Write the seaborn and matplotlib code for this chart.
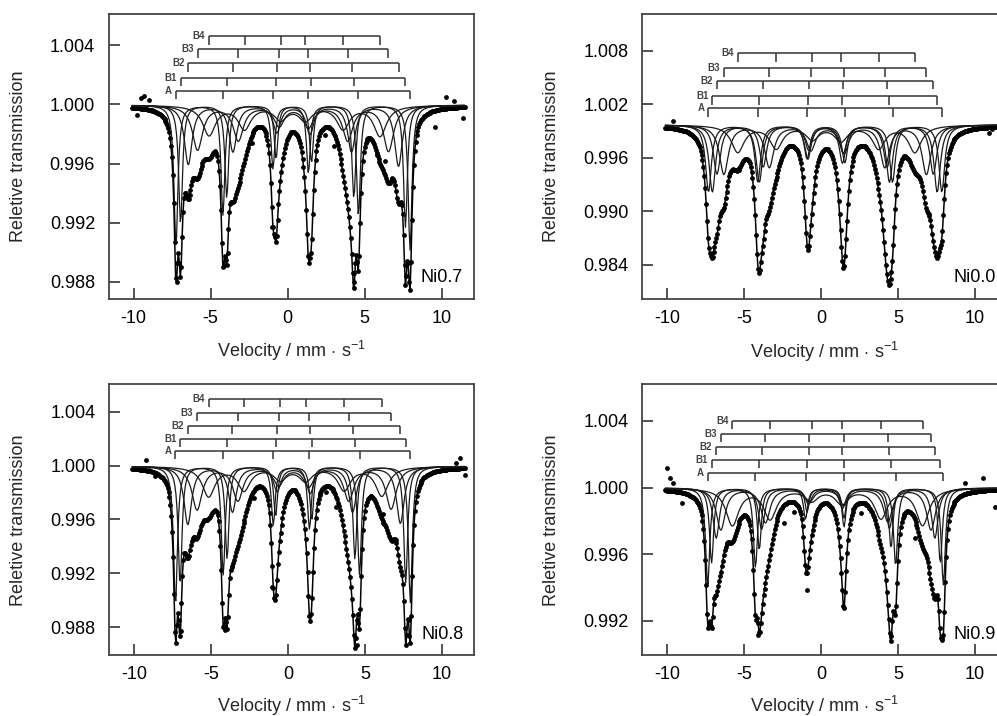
import numpy as np
import pandas as pd
import matplotlib
matplotlib.use("Agg")
import matplotlib.pyplot as plt
import seaborn as sns

sns.set_theme(style="ticks")
plt.rcParams["font.family"] = ["Liberation Sans", "DejaVu Sans"]
plt.rcParams["mathtext.fontset"] = "custom"
plt.rcParams["mathtext.rm"] = "Liberation Sans"
plt.rcParams["mathtext.it"] = "Liberation Sans:italic"
plt.rcParams["axes.unicode_minus"] = False

# sub-spectra (sextets) fitted in every sample
sites = ["A", "B1", "B2", "B3", "B4"]

# ---- Ni0.7 : line positions (mm/s), outer-line depth, line width
ni07_pos = [[-7.25, -4.20, -0.95, 1.35, 4.60, 7.95],
            [-6.95, -3.95, -0.75, 1.55, 4.30, 7.65],
            [-6.45, -3.55, -0.70, 1.45, 4.15, 7.20],
            [-5.85, -3.20, -0.55, 1.35, 3.90, 6.55],
            [-5.10, -2.80, -0.45, 1.15, 3.60, 6.00]]
ni07_depth = [0.0095, 0.0080, 0.0040, 0.0030, 0.0020]
ni07_width = [0.30, 0.30, 0.60, 0.80, 1.00]
ni07_ratio = [1.0, 0.78, 0.45, 0.48, 0.78, 1.03]
ni07_bar = [1.00092, 1.00181, 1.00276, 1.00371, 1.00460]
ni07_base = 0.99995
ni07_odd_v = [-9.8, -9.5, -9.3, -9.0, -1.0, 4.3, 5.8, 9.6, 10.3, 10.8, 11.4,
              3.0, -2.3, 2.4, 6.3]
ni07_odd_t = [0.99930, 1.00045, 1.00055, 1.00030, 0.99170, 0.98860, 0.99660,
              0.99850, 1.00050, 1.00020, 0.99905, 0.99720, 0.99740, 0.99790,
              0.99620]

# ---- Ni0.0
ni00_pos = [[-7.30, -4.10, -0.90, 1.55, 4.65, 7.85],
            [-7.05, -4.00, -0.85, 1.40, 4.45, 7.55],
            [-6.75, -3.75, -0.80, 1.45, 4.30, 7.30],
            [-6.30, -3.35, -0.65, 1.50, 4.15, 6.85],
            [-5.40, -2.90, -0.55, 1.30, 3.75, 6.10]]
ni00_depth = [0.0075, 0.0075, 0.0055, 0.0055, 0.0030]
ni00_width = [0.45, 0.50, 0.55, 0.70, 1.00]
ni00_ratio = [1.0, 0.85, 0.5, 0.56, 0.85, 1.0]
ni00_bar = [1.00155, 1.00286, 1.00461, 1.00603, 1.00770]
ni00_base = 0.99968
ni00_odd_v = [-9.6, 10.9, 11.1]
ni00_odd_t = [1.00010, 0.99880, 0.99920]

# ---- Ni0.8
ni08_pos = [[-7.30, -4.20, -0.95, 1.40, 4.65, 7.95],
            [-7.00, -3.95, -0.80, 1.55, 4.35, 7.65],
            [-6.50, -3.60, -0.70, 1.45, 4.20, 7.30],
            [-5.90, -3.25, -0.60, 1.35, 3.95, 6.70],
            [-5.15, -2.85, -0.50, 1.15, 3.65, 6.10]]
ni08_depth = [0.0103, 0.0088, 0.0043, 0.0032, 0.0022]
ni08_width = [0.30, 0.30, 0.60, 0.80, 1.00]
ni08_ratio = [1.0, 0.78, 0.42, 0.45, 0.78, 0.98]
ni08_bar = [1.00110, 1.00195, 1.00294, 1.00393, 1.00492]
ni08_base = 0.99995
ni08_odd_v = [-9.2, -9.0, -8.6, -1.05, -4.1, 4.5, 3.1, 11.2, 11.5, 10.9,
              -2.2, 2.5, 6.2]
ni08_odd_t = [1.00042, 0.99967, 0.99920, 0.99100, 0.98780, 0.98670, 0.99690,
              1.00055, 0.99930, 1.00020, 0.99760, 0.99800, 0.99640]

# ---- Ni0.9
ni09_pos = [[-7.35, -4.25, -1.00, 1.50, 4.85, 7.95],
            [-7.10, -4.00, -0.90, 1.50, 4.55, 7.75],
            [-6.80, -3.85, -0.80, 1.40, 4.45, 7.40],
            [-6.50, -3.60, -0.75, 1.50, 4.35, 7.15],
            [-5.75, -3.30, -0.60, 1.35, 3.90, 6.60]]
ni09_depth = [0.0058, 0.0045, 0.0030, 0.0025, 0.0022]
ni09_width = [0.32, 0.32, 0.50, 0.70, 1.00]
ni09_ratio = [1.0, 0.82, 0.32, 0.4, 0.8, 1.0]
ni09_bar = [1.00086, 1.00166, 1.00246, 1.00320, 1.00402]
ni09_base = 0.99998
ni09_odd_v = [-10.0, -9.8, -9.6, -9.0, -8.7, -0.9, -4.1, -1.75, -2.4, 9.35,
              10.55, 11.3, 2.6, 6.1]
ni09_odd_t = [1.00116, 1.00056, 1.00030, 0.99906, 0.99960, 0.99387, 0.99116,
              0.99856, 0.99786, 1.00026, 1.00056, 0.99886, 0.99850, 0.99700]

samples = ["Ni0.7", "Ni0.0", "Ni0.8", "Ni0.9"]
panels = {
    "Ni0.7": (ni07_pos, ni07_depth, ni07_width, ni07_ratio, ni07_bar, ni07_base, ni07_odd_v, ni07_odd_t),
    "Ni0.0": (ni00_pos, ni00_depth, ni00_width, ni00_ratio, ni00_bar, ni00_base, ni00_odd_v, ni00_odd_t),
    "Ni0.8": (ni08_pos, ni08_depth, ni08_width, ni08_ratio, ni08_bar, ni08_base, ni08_odd_v, ni08_odd_t),
    "Ni0.9": (ni09_pos, ni09_depth, ni09_width, ni09_ratio, ni09_bar, ni09_base, ni09_odd_v, ni09_odd_t),
}

# layout
axes_rect = {"Ni0.7": [0.1093, 0.5824, 0.3661, 0.3980],
             "Ni0.0": [0.6442, 0.5824, 0.3661, 0.3980],
             "Ni0.8": [0.1096, 0.0848, 0.3661, 0.3785],
             "Ni0.9": [0.6442, 0.0848, 0.3661, 0.3785]}
ylims = {"Ni0.7": (0.98685, 1.0061), "Ni0.0": (0.98016, 1.0121),
         "Ni0.8": (0.98592, 1.00603), "Ni0.9": (0.98994, 1.0062)}
yticks = {"Ni0.7": [0.988, 0.992, 0.996, 1.000, 1.004],
          "Ni0.0": [0.984, 0.990, 0.996, 1.002, 1.008],
          "Ni0.8": [0.988, 0.992, 0.996, 1.000, 1.004],
          "Ni0.9": [0.992, 0.996, 1.000, 1.004]}
xlab_y = {"Ni0.7": -0.14, "Ni0.0": -0.145, "Ni0.8": -0.142, "Ni0.9": -0.142}

v = np.linspace(-10.1, 11.5, 360)


def lorentz(x, x0, w):
    return 1.0 / (1.0 + ((x - x0) / (w / 2.0)) ** 2)


fig = plt.figure(figsize=(9.97, 7.16), dpi=100)

for name in samples:
    pos, depth, width, ratio, bar, base, odd_v, odd_t = panels[name]
    ax = fig.add_axes(axes_rect[name])

    subs = []
    for k in range(len(sites)):
        absn = np.zeros_like(v)
        for i in range(6):
            absn += depth[k] * ratio[i] * lorentz(v, pos[k][i], width[k])
        subs.append(absn)
    total = base - np.sum(subs, axis=0)

    # sub-spectra
    for k, s in enumerate(sites):
        sns.lineplot(x=v, y=base - subs[k], ax=ax, color="#1a1a1a", lw=0.9,
                     estimator=None, sort=False)
    # fitted envelope + measured points
    sns.lineplot(x=v, y=total, ax=ax, color="black", lw=1.1, estimator=None,
                 sort=False)
    pts = pd.DataFrame({"v": np.concatenate([v, odd_v]),
                        "t": np.concatenate([total, odd_t])})
    sns.scatterplot(data=pts, x="v", y="t", ax=ax, color="black", s=12,
                    linewidth=0, marker="o")

    # stick diagrams for each sextet
    y0, y1 = ylims[name]
    tick_len = 0.03 * (y1 - y0)
    for k, s in enumerate(sites):
        ax.hlines(bar[k], pos[k][0], pos[k][5], color="#333333", lw=1.1)
        ax.vlines(pos[k], bar[k] - tick_len, bar[k], color="#333333", lw=1.1)
        ax.text(pos[k][0] - 0.25, bar[k], s, ha="right", va="center",
                fontsize=7, fontweight="bold", color="#444444")

    ax.text(0.97, 0.045, name, transform=ax.transAxes, ha="right",
            va="bottom", fontsize=13, color="black")

    ax.set_xlim(-11.6, 12.1)
    ax.set_ylim(y0, y1)
    ax.set_xticks([-10, -5, 0, 5, 10])
    ax.set_yticks(yticks[name])
    ax.set_yticklabels([f"{t:.3f}" for t in yticks[name]])
    ax.tick_params(axis="both", direction="in", length=8, width=1.3,
                   color="#444444", labelsize=13, labelcolor="black")
    ax.tick_params(axis="x", pad=8)
    ax.tick_params(axis="y", pad=10)
    for sp in ax.spines.values():
        sp.set_color("#444444")
        sp.set_linewidth(1.3)

    ax.set_xlabel(r"Velocity / mm$\,\cdot\,$s$^{-1}$", fontsize=13)
    ax.set_ylabel("Reletive transmission", fontsize=13)
    ax.xaxis.set_label_coords(0.5, xlab_y[name])
    ax.yaxis.set_label_coords(-0.225, 0.5)

fig.savefig("out.png", dpi=100)
